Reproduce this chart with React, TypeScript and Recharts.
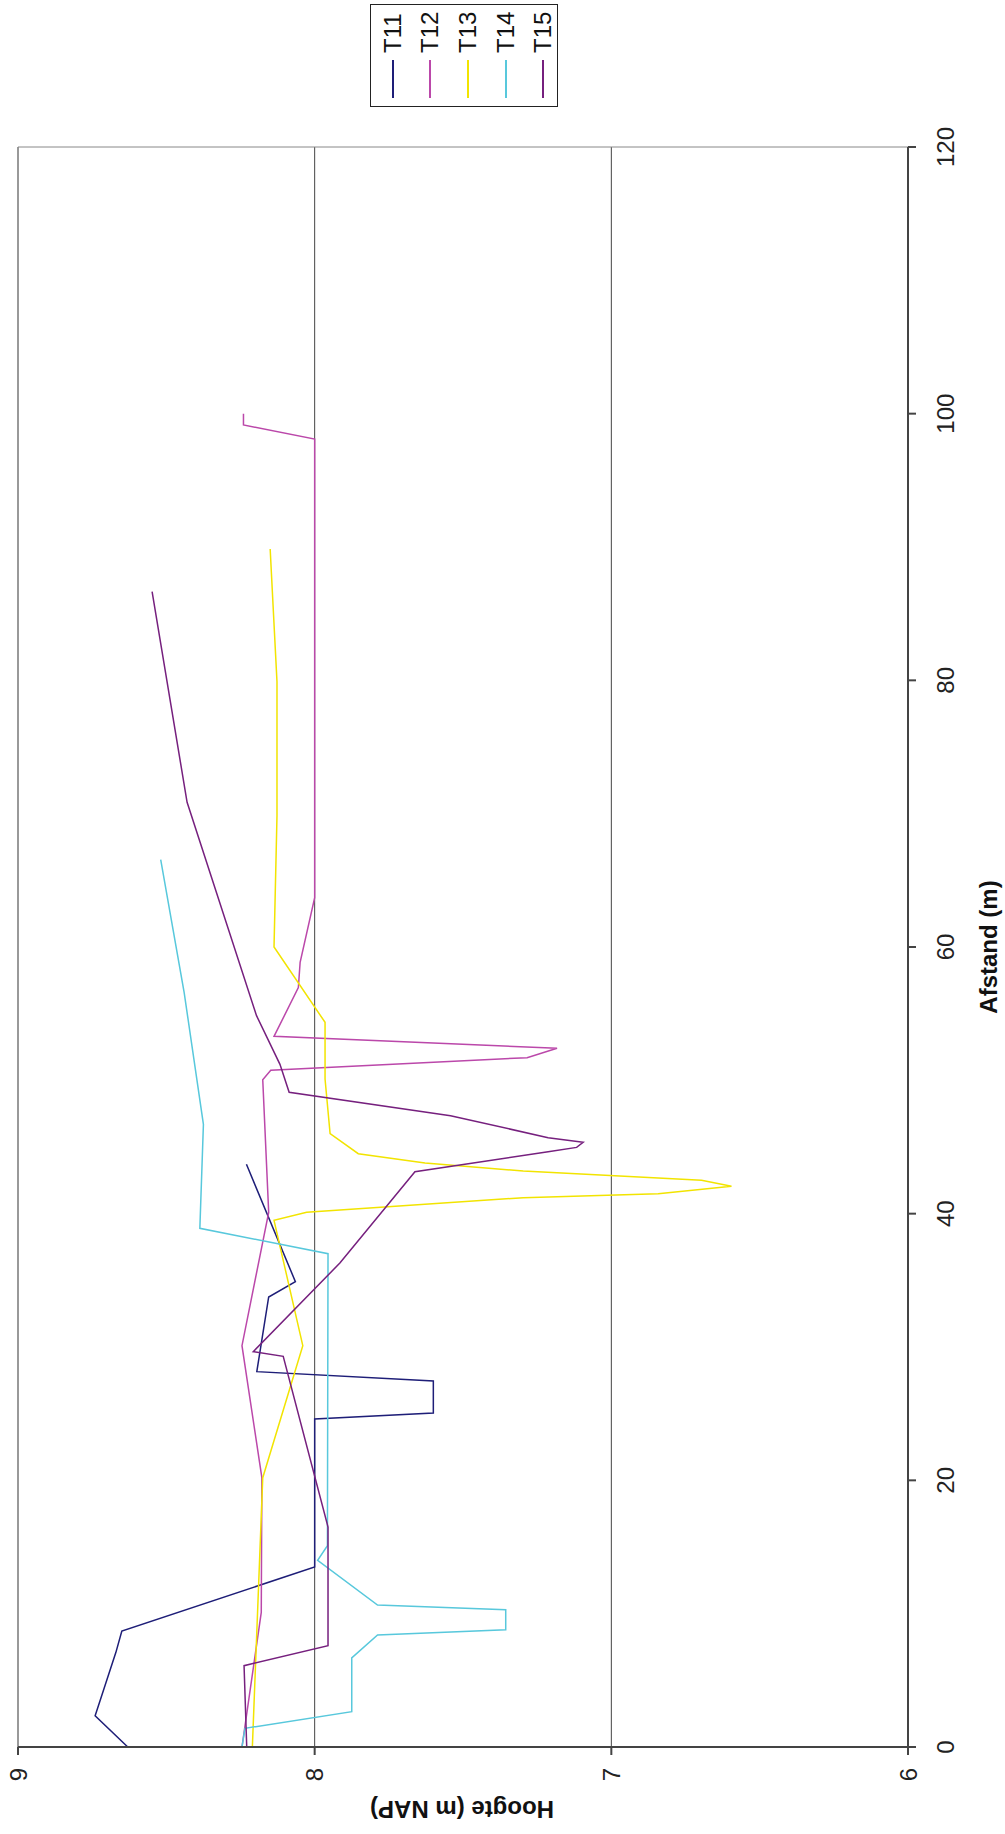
import { LineChart, Line, XAxis, YAxis, CartesianGrid, ReferenceLine, Legend } from 'recharts';

// Afstand (m) along the profile, Hoogte (m NAP) at each point
const t11Afstand = [0, 2.35, 7.1, 8.7, 13.5, 24.6, 25.05, 27.45, 28.15, 33.75, 34.9, 43.7];
const t11Hoogte = [8.63, 8.74, 8.67, 8.65, 8.0, 8.0, 7.6, 7.6, 8.195, 8.155, 8.065, 8.23];

const t12Afstand = [0, 10.1, 20.2, 30.1, 40.1, 50.05, 50.75, 51.7, 52.4, 53.3, 56.95, 58.85, 63.7, 98.1, 99.15, 100];
const t12Hoogte = [8.245, 8.18, 8.178, 8.245, 8.155, 8.175, 8.148, 7.284, 7.183, 8.137, 8.055, 8.049, 8.0, 8.0, 8.24, 8.24];

const t13Afstand = [0, 20.2, 30.1, 39.5, 40.1, 41.2, 41.5, 42.05, 42.5, 43.2, 43.8, 44.5, 46.0, 50.1, 54.35, 60.0, 69.85, 79.9, 89.85];
const t13Hoogte = [8.21, 8.175, 8.04, 8.137, 8.027, 7.297, 6.842, 6.595, 6.696, 7.297, 7.628, 7.853, 7.948, 7.965, 7.965, 8.137, 8.127, 8.127, 8.15];

const t14Afstand = [0, 1.4, 2.65, 6.68, 8.4, 8.8, 10.3, 10.65, 14.0, 15.1, 37.0, 38.9, 46.7, 56.6, 66.55];
const t14Hoogte = [8.245, 8.235, 7.875, 7.875, 7.788, 7.356, 7.356, 7.788, 7.99, 7.957, 7.955, 8.387, 8.375, 8.44, 8.519];

const t15Afstand = [0, 6.1, 7.6, 16.5, 29.3, 29.65, 36.3, 43.15, 44.65, 44.97, 45.35, 45.7, 47.35, 49.1, 51.2, 54.85, 70.85, 86.65];
const t15Hoogte = [8.229, 8.238, 7.955, 7.955, 8.106, 8.207, 7.915, 7.662, 7.213, 7.117, 7.095, 7.213, 7.542, 8.086, 8.117, 8.196, 8.43, 8.548];

const afstandTicks = [0, 20, 40, 60, 80, 100, 120];
const hoogteTicks = [6, 7, 8, 9];

const seriesNames = ['T11', 'T12', 'T13', 'T14', 'T15'];
const seriesColors = ['#1e1e78', '#bb48aa', '#f2e400', '#58c8dc', '#76207e'];

const zip = (a: number[], h: number[]) => a.map((v, i) => ({ a: v, h: h[i] }));

const seriesData = [
  zip(t11Afstand, t11Hoogte),
  zip(t12Afstand, t12Hoogte),
  zip(t13Afstand, t13Hoogte),
  zip(t14Afstand, t14Hoogte),
  zip(t15Afstand, t15Hoogte),
];

const FONT = '"Liberation Sans", Arial, Helvetica, sans-serif';

// chart is drawn landscape, then turned a quarter to the left
const W = 1834;
const H = 1005;

const LegendBox = ({ payload }: any) => (
  <div
    style={{
      border: '1px solid #222',
      width: 101,
      height: 183,
      paddingTop: 3,
      background: '#fff',
      fontFamily: FONT,
    }}
  >
    {(payload || []).map((entry: any) => (
      <div key={entry.value} style={{ display: 'flex', alignItems: 'center', height: 37.6, paddingLeft: 8 }}>
        <div style={{ width: 38, borderTop: `2px solid ${entry.color}` }} />
        <span style={{ marginLeft: 7, fontSize: 24, lineHeight: 1, color: '#111' }}>{entry.value}</span>
      </div>
    ))}
  </div>
);

const App = () => {
  return (
    <div style={{ position: 'absolute', left: 0, top: 0, width: H, height: W, overflow: 'hidden', background: '#fff' }}>
      <div
        style={{
          position: 'absolute',
          left: 0,
          top: 0,
          width: W,
          height: H,
          transformOrigin: '0 0',
          transform: `translateY(${W}px) rotate(-90deg)`,
        }}
      >
        <LineChart
          width={W}
          height={H}
          margin={{ top: 18, right: 147, bottom: 37, left: 27 }}
          style={{ fontFamily: FONT }}
        >
          <CartesianGrid horizontal vertical={false} horizontalValues={[7, 8]} stroke="#444" strokeWidth={1} />
          <ReferenceLine y={9} stroke="#999" strokeWidth={2} />
          <ReferenceLine x={120} stroke="#888" strokeWidth={1} />
          <XAxis
            type="number"
            dataKey="a"
            domain={[0, 120]}
            ticks={afstandTicks}
            height={60}
            tickSize={8}
            tickMargin={21}
            stroke="#444"
            strokeWidth={2}
            tick={{ fontSize: 24, fill: '#222', fontFamily: FONT }}
            allowDuplicatedCategory={false}
          />
          <YAxis
            type="number"
            dataKey="h"
            domain={[6, 9]}
            ticks={hoogteTicks}
            width={60}
            tickSize={8}
            tickMargin={13}
            stroke="#444"
            strokeWidth={2}
            tick={{ fontSize: 24, fill: '#222', fontFamily: FONT }}
          />
          <Legend
            layout="horizontal"
            align="center"
            verticalAlign="middle"
            content={<LegendBox />}
            wrapperStyle={{ left: 1727, top: 370, width: 'auto', height: 'auto' }}
          />
          {seriesNames.map((name, i) => (
            <Line
              key={name}
              name={name}
              data={seriesData[i]}
              dataKey="h"
              type="linear"
              stroke={seriesColors[i]}
              strokeWidth={1.5}
              dot={false}
              activeDot={false}
              isAnimationActive={false}
            />
          ))}
        </LineChart>
        <div
          style={{
            position: 'absolute',
            left: 887,
            top: 989,
            transform: 'translate(-50%, -50%)',
            fontFamily: FONT,
            fontWeight: 'bold',
            fontSize: 24,
            lineHeight: 1,
            whiteSpace: 'nowrap',
            color: '#111',
          }}
        >
          Afstand (m)
        </div>
        <div
          style={{
            position: 'absolute',
            left: 25,
            top: 462,
            transform: 'translate(-50%, -50%) rotate(-90deg)',
            fontFamily: FONT,
            fontWeight: 'bold',
            fontSize: 24,
            lineHeight: 1,
            whiteSpace: 'nowrap',
            color: '#111',
          }}
        >
          Hoogte (m NAP)
        </div>
      </div>
    </div>
  );
};

export default App;
